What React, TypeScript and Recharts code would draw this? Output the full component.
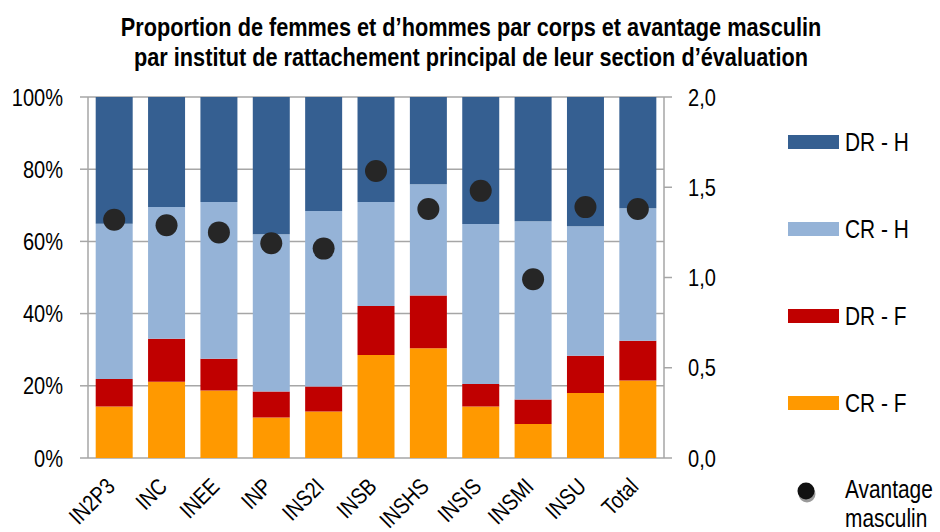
import { ComposedChart, Bar, Scatter, XAxis, YAxis, CartesianGrid } from "recharts";

// catégories (instituts)
const instituts = ["IN2P3", "INC", "INEE", "INP", "INS2I", "INSB", "INSHS", "INSIS", "INSMI", "INSU", "Total"];

// parts en % de chaque corps
const crF = [14.3, 21.1, 18.7, 11.2, 12.9, 28.5, 30.4, 14.3, 9.4, 18.0, 21.5];
const drF = [7.6, 11.9, 8.8, 7.2, 6.9, 13.6, 14.6, 6.2, 6.8, 10.3, 11.0];
const crH = [43.0, 36.5, 43.4, 43.6, 48.6, 28.8, 30.8, 44.3, 49.4, 35.9, 36.7];
const drH = [35.1, 30.5, 29.1, 38.0, 31.6, 29.1, 24.2, 35.2, 34.4, 35.8, 30.8];

// avantage masculin (axe de droite)
const avantage = [1.32, 1.29, 1.25, 1.19, 1.16, 1.59, 1.38, 1.48, 0.99, 1.39, 1.38];

const leftTicks = [0, 20, 40, 60, 80, 100];
const rightTicks = [0, 0.5, 1, 1.5, 2];

const data = instituts.map((name, i) => ({
  name,
  idx: i,
  crF: crF[i],
  drF: drF[i],
  crH: crH[i],
  drH: drH[i],
  avantage: avantage[i],
}));

// pas d'Arial Narrow : on resserre la Liberation Sans
const FONT = '"Liberation Sans", Arial, sans-serif';
const NARROW = 0.835;
const GRID = "#a6a6a6";

const Dot = (props: any) => {
  const { cx, cy } = props;
  if (cx == null || cy == null) return null;
  return <circle cx={cx} cy={cy} r={11} fill="#262626" />;
};

const XTick = (props: any) => {
  const { x, y, payload } = props;
  return (
    <text
      transform={`translate(${x + 2}, ${y + 22}) rotate(-45) scale(${NARROW}, 1)`}
      textAnchor="end"
      fontSize={23}
      fontFamily={FONT}
      fill="#000"
    >
      {payload.value}
    </text>
  );
};

const LeftTick = (props: any) => {
  const { y, payload } = props;
  return (
    <text
      transform={`translate(63, ${y}) scale(${NARROW}, 1)`}
      dy="0.36em"
      textAnchor="end"
      fontSize={24}
      fontFamily={FONT}
      fill="#000"
    >
      {`${payload.value}%`}
    </text>
  );
};

const RightTick = (props: any) => {
  const { y, payload } = props;
  return (
    <text
      transform={`translate(688, ${y}) scale(${NARROW}, 1)`}
      dy="0.36em"
      textAnchor="start"
      fontSize={24}
      fontFamily={FONT}
      fill="#000"
    >
      {Number(payload.value).toFixed(1).replace(".", ",")}
    </text>
  );
};

const legendItems = [
  { label: "DR - H", color: "#355f91", y: 142 },
  { label: "CR - H", color: "#95b3d7", y: 229 },
  { label: "DR - F", color: "#c00000", y: 316 },
  { label: "CR - F", color: "#ff9900", y: 403 },
];

export default function App() {
  return (
    <div style={{ position: "absolute", left: 0, top: 0, width: 940, height: 532, background: "#fff" }}>
      <ComposedChart
        width={940}
        height={532}
        data={data}
        margin={{ top: 97, right: 216, bottom: 0, left: 0 }}
        barCategoryGap="14.7%"
        style={{ position: "absolute", left: 0, top: 0 }}
      >
        <CartesianGrid vertical={false} yAxisId="left" stroke={GRID} strokeWidth={1.5} />
        <XAxis
          xAxisId="b"
          type="number"
          dataKey="idx"
          domain={[0, 11]}
          ticks={[0, 1, 2, 3, 4, 5, 6, 7, 8, 9, 10, 11]}
          tickFormatter={() => ""}
          height={0}
          stroke={GRID}
          strokeWidth={1.5}
          tickSize={8}
        />
        <XAxis
          dataKey="name"
          height={74}
          axisLine={false}
          tickLine={false}
          interval={0}
          tick={<XTick />}
        />
        <YAxis
          yAxisId="left"
          domain={[0, 100]}
          ticks={leftTicks}
          width={88}
          stroke={GRID}
          strokeWidth={1.5}
          tickSize={8}
          tick={<LeftTick />}
        />
        <YAxis
          yAxisId="right"
          orientation="right"
          domain={[0, 2]}
          ticks={rightTicks}
          width={60}
          stroke={GRID}
          strokeWidth={1.5}
          tickSize={8}
          tick={<RightTick />}
        />
        <Bar yAxisId="left" dataKey="crF" stackId="a" fill="#ff9900" isAnimationActive={false} />
        <Bar yAxisId="left" dataKey="drF" stackId="a" fill="#c00000" isAnimationActive={false} />
        <Bar yAxisId="left" dataKey="crH" stackId="a" fill="#95b3d7" isAnimationActive={false} />
        <Bar yAxisId="left" dataKey="drH" stackId="a" fill="#355f91" isAnimationActive={false} />
        <Scatter yAxisId="right" dataKey="avantage" shape={<Dot />} isAnimationActive={false} />
      </ComposedChart>
      <svg width={940} height={532} style={{ position: "absolute", left: 0, top: 0, pointerEvents: "none" }}>
        <g fontFamily={FONT} fill="#000">
          <text transform={`translate(471, 36) scale(${NARROW}, 1)`} textAnchor="middle" fontSize={26} fontWeight="bold">
            Proportion de femmes et d’hommes par corps et avantage masculin
          </text>
          <text transform={`translate(471, 66) scale(${NARROW}, 1)`} textAnchor="middle" fontSize={26} fontWeight="bold">
            par institut de rattachement principal de leur section d’évaluation
          </text>
          {legendItems.map((it) => (
            <g key={it.label}>
              <rect x={788} y={it.y - 7} width={51} height={14} fill={it.color} />
              <text transform={`translate(845, ${it.y}) scale(${NARROW}, 1)`} dy="0.36em" fontSize={25}>
                {it.label}
              </text>
            </g>
          ))}
          <circle cx={807} cy={494} r={8.5} fill="#9a9a9a" />
          <circle cx={806} cy={491} r={8.5} fill="#111" />
          <text transform={`translate(845, 498) scale(${NARROW}, 1)`} fontSize={25}>
            Avantage
          </text>
          <text transform={`translate(845, 527) scale(${NARROW}, 1)`} fontSize={25}>
            masculin
          </text>
        </g>
      </svg>
    </div>
  );
}
